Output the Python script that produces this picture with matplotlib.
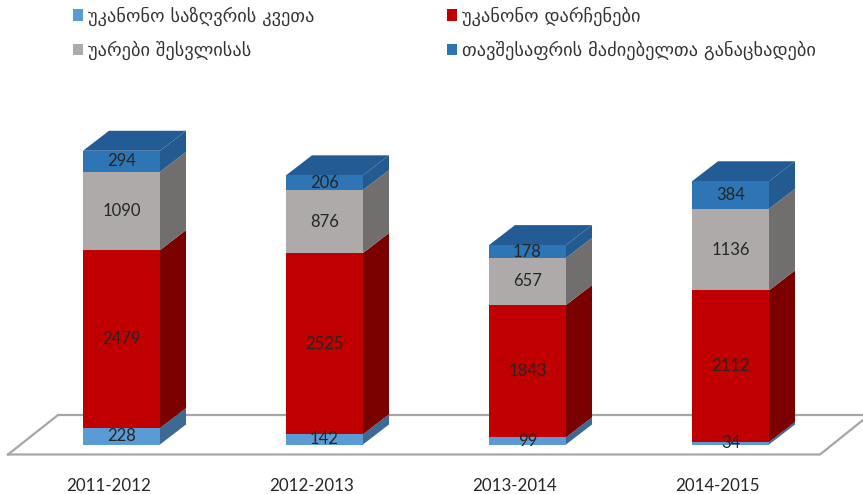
import numpy as np
import matplotlib
matplotlib.use('Agg')
import matplotlib.pyplot as plt
from matplotlib.patches import Polygon
from matplotlib.transforms import ScaledTranslation

periods = ['2011-2012', '2012-2013', '2013-2014', '2014-2015']
border_crossing = [228, 142, 99, 34]
illegal_stay = [2479, 2525, 1843, 2112]
refused_entry = [1090, 876, 657, 1136]
asylum_requests = [294, 206, 178, 384]

series_names = ['უკანონო საზღვრის კვეთა', 'უკანონო დარჩენები',
                'უარები შესვლისას', 'თავშესაფრის მაძიებელთა განაცხადები']
front_colors = ['#5b9bd5', '#c00000', '#aeaaaa', '#2e75b6']
side_colors = ['#3d6a94', '#7b0000', '#716e6e', '#235a8f']
top_color = '#235c94'

W, H = 863, 494
px_per_cat = 203.0
px_per_val = 0.0718
zero_y = 444.5     # pixel row of value 0
first_x = 121.5    # pixel column of first bar centre
axes_bottom = 470  # pixel row of the bottom of the axes

fig = plt.figure(figsize=(W / 100, H / 100), dpi=100)
ax = fig.add_axes([0, 1 - axes_bottom / H, 1, axes_bottom / H])
ax.set_xlim(-first_x / px_per_cat, (W - first_x) / px_per_cat)
ax.set_ylim(-(axes_bottom - zero_y) / px_per_val, zero_y / px_per_val)

bar_w = 77 / px_per_cat
dx = 26 / px_per_cat
dy = 20 / px_per_val

# floor of the 3d chart, drawn in figure pixels
def floor_line(xs, ys):
    ax.plot(np.array(xs) / W, 1 - np.array(ys) / H, color='#a6a6a6', lw=1.6,
            transform=fig.transFigure, clip_on=False, zorder=1)

floor_line([8, 58, 863], [454.5, 415, 415])
floor_line([8, 820, 863], [454.5, 454.5, 420])

x = np.arange(len(periods))
bottom = np.zeros(len(periods))
all_series = [border_crossing, illegal_stay, refused_entry, asylum_requests]
handles = []
for k, values in enumerate(all_series):
    values = np.array(values)
    bars = ax.bar(x, values, bar_w, bottom=bottom, color=front_colors[k],
                  label=series_names[k], zorder=3)
    handles.append(bars)
    for i in x:
        left = i - bar_w / 2
        right = i + bar_w / 2
        y0 = bottom[i]
        y1 = bottom[i] + values[i]
        ax.add_patch(Polygon([(right, y0), (right + dx, y0 + dy), (right + dx, y1 + dy), (right, y1)],
                             closed=True, fc=side_colors[k], ec='none', zorder=2))
        if k == len(all_series) - 1:
            ax.add_patch(Polygon([(left, y1), (left + dx, y1 + dy), (right + dx, y1 + dy), (right, y1)],
                                 closed=True, fc=top_color, ec='none', zorder=2))
        ax.text(i, (y0 + y1) / 2, str(values[i]), ha='center', va='center',
                fontsize=12, family='Lato', color='#262626', zorder=4)
    bottom = bottom + values

for side in ax.spines.values():
    side.set_visible(False)
ax.set_yticks([])
ax.set_xticks(x, periods, fontsize=12.2, family='Lato', color='#262626')
ax.tick_params(axis='x', length=0, pad=6)
# category labels sit left of the bars in the reference
shift = ScaledTranslation(-13 / 100, 0, fig.dpi_scale_trans)
for lab in ax.get_xticklabels():
    lab.set_transform(lab.get_transform() + shift)

leg = ax.legend([handles[0], handles[2], handles[1], handles[3]],
                [series_names[0], series_names[2], series_names[1], series_names[3]],
                ncol=2, frameon=False, prop={'family': 'DejaVu Sans', 'size': 13.2},
                loc='upper left', bbox_to_anchor=(73 / W, 1 - 6.5 / axes_bottom), borderaxespad=0,
                borderpad=0, handlelength=0.57, handleheight=0.62, handletextpad=0.27,
                labelspacing=0.82, columnspacing=7.2)
for t in leg.get_texts():
    t.set_color('#333333')

plt.savefig('out.png', dpi=100)
